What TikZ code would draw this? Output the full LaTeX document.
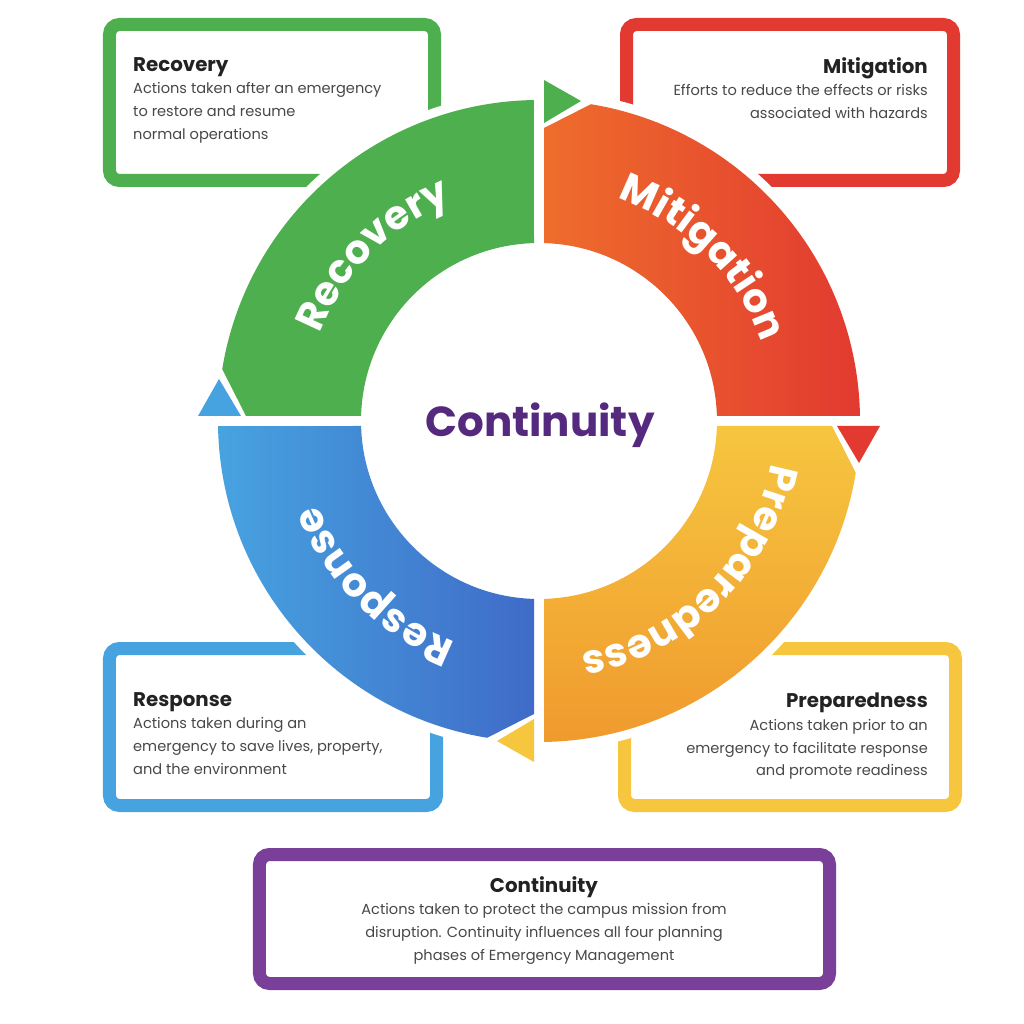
\documentclass[tikz,border=0pt]{standalone}
\usepackage{fontspec}
\setmainfont{Poppins}
\usetikzlibrary{decorations.text}

\definecolor{RecGreen}{HTML}{4EAF4F}
\definecolor{MitRed}{HTML}{E23A30}
\definecolor{MitOrange}{HTML}{EE6D2C}
\definecolor{PrepYellow}{HTML}{F6C63F}
\definecolor{PrepOrange}{HTML}{F09A2E}
\definecolor{RespBlue}{HTML}{47A3E0}
\definecolor{RespDark}{HTML}{3F6BC8}
\definecolor{ContPurple}{HTML}{7A3F98}
\definecolor{ContText}{HTML}{54297E}
\definecolor{TitleGrey}{HTML}{222222}
\definecolor{BodyGrey}{HTML}{484848}

\begin{document}
\begin{tikzpicture}[x=1pt, y=1pt,
  phasebox/.style={line width=13pt, rounded corners=10pt},
  ringlabel/.style={decorate, decoration={text along path, text align=center, text color=white,
    text={|\fontsize{40}{40}\selectfont\bfseries|#1}}},
  boxtext/.style={inner sep=0pt, font=\fontsize{14.6}{22.7}\selectfont, text=BodyGrey}]
\useasboundingbox (-539,-603) rectangle (485,421);
\coordinate (Centre) at (0,0);
% outer boxes
\draw[phasebox, draw=RecGreen] (-429.5,240.5) rectangle (-104.5,396.5);
\draw[phasebox, draw=MitRed] (87.5,240.5) rectangle (414.5,396.5);
\draw[phasebox, draw=RespBlue] (-429.5,-227.5) rectangle (-102.5,-384.5);
\draw[phasebox, draw=PrepYellow] (85.5,-227.5) rectangle (416.5,-384.5);
\draw[phasebox, draw=ContPurple] (-279.5,-433.5) rectangle (290.5,-562.5);
% white margin round the ring
\fill[white] (Centre) circle (330);
% ring segments
\shade[left color=MitOrange, right color=MitRed] (5,177.9) -- (5,293) -- (80.7:321)
    arc[start angle=80.7, end angle=0.9, radius=321] -- (177.9,5)
    arc[start angle=1.61, end angle=88.39, radius=178] -- cycle;
\shade[top color=PrepYellow, bottom color=PrepOrange] (177.9,-5) -- (293,-5) -- (-9.3:321)
    arc[start angle=-9.3, end angle=-89.1, radius=321] -- (5,-177.9)
    arc[start angle=-88.39, end angle=-1.61, radius=178] -- cycle;
\shade[left color=RespBlue, right color=RespDark] (-5,-177.9) -- (-5,-293) -- (-99.3:321)
    arc[start angle=-99.3, end angle=-179.1, radius=321] -- (-177.9,-5)
    arc[start angle=-178.39, end angle=-91.61, radius=178] -- cycle;
\fill[RecGreen] (-177.9,5) -- (-293,5) -- (170.7:321)
    arc[start angle=170.7, end angle=90.9, radius=321] -- (-5,177.9)
    arc[start angle=91.61, end angle=178.39, radius=178] -- cycle;
% arrow heads
\fill[RecGreen] (5,298) -- (5,341) -- (42,320) -- cycle;
\fill[MitRed] (298,-5) -- (341,-5) -- (320,-42) -- cycle;
\fill[PrepYellow] (-5,-298) -- (-5,-341) -- (-42,-320) -- cycle;
\fill[RespBlue] (-298,5) -- (-341,5) -- (-320,42) -- cycle;
% ring labels
\path[ringlabel=Recovery] (180:236) arc[start angle=180, end angle=90, radius=236];
\path[ringlabel=Mitigation] (90:236) arc[start angle=90, end angle=0, radius=236];
\path[ringlabel=Preparedness] (0:236) arc[start angle=0, end angle=-90, radius=236];
\path[ringlabel=Response] (-90:236) arc[start angle=-90, end angle=-180, radius=236];
\node[font=\fontsize{42}{42}\selectfont\bfseries, text=ContText] (CentreLabel) at (1,-4) {Continuity};
% box texts
\node[boxtext, anchor=north west, align=left] (RecText) at (-406,364)
  {{\fontsize{19.8}{22.7}\selectfont\bfseries\color{TitleGrey}Recovery}\\Actions taken after an emergency\\to restore and resume\\normal operations};
\node[boxtext, anchor=north east, align=right] (MitText) at (389,364)
  {{\fontsize{19.8}{22.7}\selectfont\bfseries\color{TitleGrey}Mitigation}\\Efforts to reduce the effects or risks\\associated with hazards};
\node[boxtext, anchor=north west, align=left] (RespText) at (-406,-271)
  {{\fontsize{19.8}{22.7}\selectfont\bfseries\color{TitleGrey}Response}\\Actions taken during an\\emergency to save lives, property,\\and the environment};
\node[boxtext, anchor=north east, align=right] (PrepText) at (389,-272)
  {{\fontsize{19.8}{22.7}\selectfont\bfseries\color{TitleGrey}Preparedness}\\Actions taken prior to an\\emergency to facilitate response\\and promote readiness};
\node[boxtext, anchor=north, align=center] (ContBoxText) at (5,-455)
  {{\fontsize{19.8}{22.7}\selectfont\bfseries\color{TitleGrey}Continuity}\\Actions taken to protect the campus mission from\\disruption. Continuity influences all four planning\\phases of Emergency Management};
\end{tikzpicture}
\end{document}
